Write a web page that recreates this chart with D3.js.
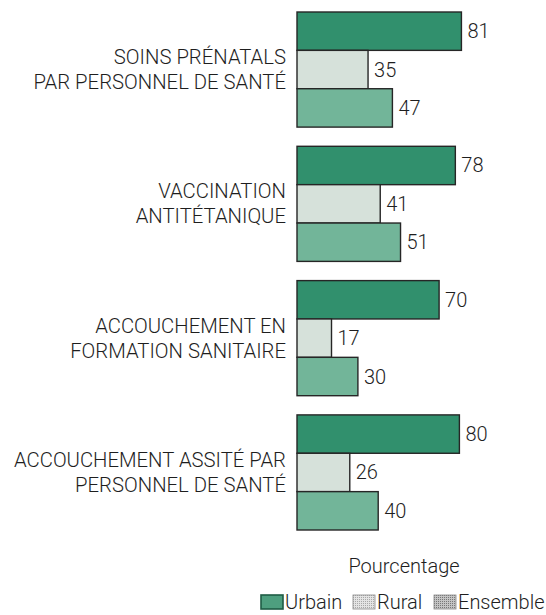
<!DOCTYPE html>
<html>
<head>
<meta charset="utf-8">
<script src="https://cdn.jsdelivr.net/npm/d3@7"></script>
<style>
  body { margin: 0; background: #fff; }
  text { font-family: Roboto, "Liberation Sans", Arial, sans-serif; font-weight: 300; fill: #1e1e1e; }
</style>
</head>
<body>
<div id="main"></div>
<script>
const WIDTH = 546;
const HEIGHT = 615;

// data
const categories = [
  ["SOINS PRÉNATALS", "PAR PERSONNEL DE SANTÉ"],
  ["VACCINATION", "ANTITÉTANIQUE"],
  ["ACCOUCHEMENT EN", "FORMATION SANITAIRE"],
  ["ACCOUCHEMENT ASSITÉ PAR", "PERSONNEL DE SANTÉ"]
];
const series = ["Urbain", "Rural", "Ensemble"];
const urbain = [81, 78, 70, 80];
const rural = [35, 41, 17, 26];
const ensemble = [47, 51, 30, 40];
const xLabel = "Pourcentage";

const barColors = { Urbain: "#31906d", Rural: "#d6e1da", Ensemble: "#72b599" };

const values = { Urbain: urbain, Rural: rural, Ensemble: ensemble };

const svg = d3.select("#main")
  .append("svg")
  .attr("width", WIDTH)
  .attr("height", HEIGHT)
  .attr("viewBox", [0, 0, WIDTH, HEIGHT]);

// speckled fills for the grey legend keys
const defs = svg.append("defs");
function dots(id, base, dot) {
  const p = defs.append("pattern")
    .attr("id", id)
    .attr("width", 2)
    .attr("height", 2)
    .attr("patternUnits", "userSpaceOnUse");
  p.append("rect").attr("width", 2).attr("height", 2).attr("fill", base);
  p.append("rect").attr("width", 1).attr("height", 1).attr("fill", dot);
}
dots("dotsRural", "#e4e4e4", "#a8a8a8");
dots("dotsEnsemble", "#c4c4c4", "#777");
const legendFills = { Urbain: "#4e9f7f", Rural: "url(#dotsRural)", Ensemble: "url(#dotsEnsemble)" };

const x = d3.scaleLinear().domain([0, 100]).range([297, 297 + 203]);
const y = d3.scaleBand().domain(d3.range(categories.length)).range([12, 530]).paddingInner(0.143);
const ySub = d3.scaleBand().domain(series).range([0, y.bandwidth()]);

const groups = svg.selectAll(".group")
  .data(categories)
  .join("g")
  .attr("class", "group")
  .attr("transform", (d, i) => `translate(0, ${y(i)})`);

// category labels
groups.append("text")
  .attr("text-anchor", "end")
  .attr("font-size", 20.3)
  .selectAll("tspan")
  .data(d => d)
  .join("tspan")
  .attr("x", 286)
  .attr("y", (d, j) => y.bandwidth() / 2 - 5.5 + j * 25)
  .text(d => d);

// bars
groups.each(function (d, i) {
  const g = d3.select(this);
  const rows = series.map(s => ({ s, v: values[s][i] }));
  g.selectAll("rect")
    .data(rows)
    .join("rect")
    .attr("x", x(0))
    .attr("y", r => ySub(r.s))
    .attr("width", r => x(r.v) - x(0))
    .attr("height", ySub.bandwidth())
    .attr("fill", r => barColors[r.s])
    .attr("stroke", "#262626")
    .attr("stroke-width", 1.4);
  g.selectAll(".val")
    .data(rows)
    .join("text")
    .attr("class", "val")
    .attr("x", r => x(r.v) + 6)
    .attr("y", r => ySub(r.s) + ySub.bandwidth() / 2 + 7)
    .attr("font-size", 20)
    .text(r => r.v);
});

// axis title
svg.append("text")
  .attr("x", 404)
  .attr("y", 573)
  .attr("text-anchor", "middle")
  .attr("font-size", 20)
  .text(xLabel);

// legend
const legendPos = [261, 353, 434];
const legend = svg.selectAll(".legend")
  .data(series)
  .join("g")
  .attr("class", "legend")
  .attr("transform", (d, i) => `translate(${legendPos[i]}, 595)`);
legend.append("rect")
  .attr("width", 22)
  .attr("height", 14)
  .attr("fill", d => legendFills[d])
  .attr("stroke", d => d === "Urbain" ? "#1f5c45" : "#888")
  .attr("stroke-width", d => d === "Urbain" ? 1.6 : 0.8);
legend.append("text")
  .attr("x", 24)
  .attr("y", 14)
  .attr("font-size", 20)
  .text(d => d);
</script>
</body>
</html>
